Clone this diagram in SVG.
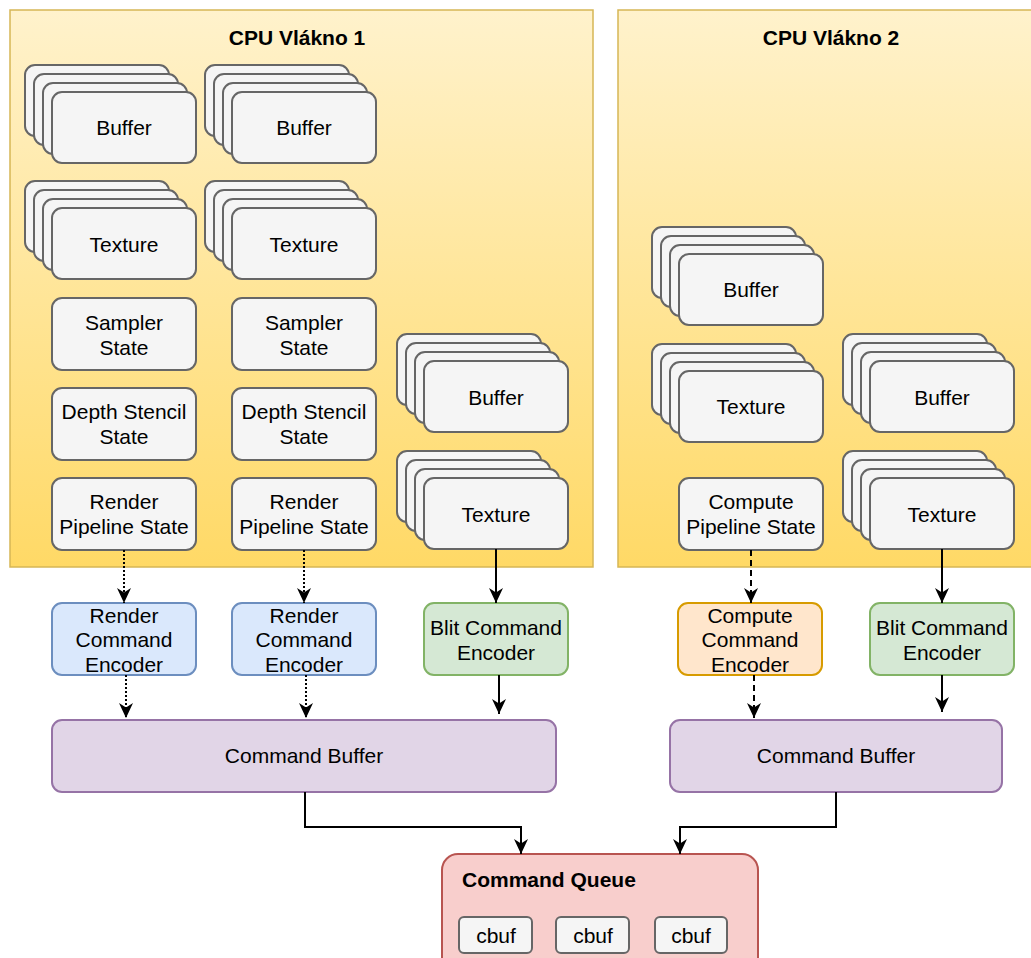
<svg xmlns="http://www.w3.org/2000/svg" width="1031" height="958" viewBox="0 0 1031 958">
<defs>
<linearGradient id="yg" x1="0" y1="0" x2="0" y2="1">
<stop offset="0" stop-color="#fff2cc"/>
<stop offset="1" stop-color="#ffd966"/>
</linearGradient>
<marker id="arr" viewBox="0 0 15 14" markerWidth="15" markerHeight="14" refX="15" refY="7" orient="auto" markerUnits="userSpaceOnUse">
<path d="M0,0 L15,7 L0,14 L4.5,7 z" fill="#000" stroke="none"/>
</marker>
</defs>
<style>
text{font-family:"Liberation Sans",Arial,Helvetica,sans-serif;font-size:21px;fill:#000;text-anchor:middle;dominant-baseline:central}
.b{font-weight:bold}
.cont{fill:url(#yg);stroke:#d6b656;stroke-width:1.5}
.g{fill:#f5f5f5;stroke:#666;stroke-width:2}
.rce{fill:#dae8fc;stroke:#6c8ebf;stroke-width:2}
.bce{fill:#d5e8d4;stroke:#82b366;stroke-width:2}
.cce{fill:#ffe6cc;stroke:#d79b00;stroke-width:2}
.cb{fill:#e1d5e7;stroke:#9673a6;stroke-width:2}
.cq{fill:#f8cecc;stroke:#b85450;stroke-width:2}
.e{fill:none;stroke:#000;stroke-width:2;marker-end:url(#arr)}
.dot{stroke-dasharray:2 2}
.dash{stroke-dasharray:6 4}
</style>
<g id="thread1"><rect class="cont" x="10" y="10" width="583" height="557"/><text class="b" x="297" y="37">CPU Vlákno 1</text></g>
<g id="thread2"><rect class="cont" x="618" y="10" width="430" height="557"/><text class="b" x="831" y="37">CPU Vlákno 2</text></g>

<g id="buffer1"><rect class="g" x="25" y="65" width="144" height="71" rx="10"/><rect class="g" x="34" y="74" width="144" height="71" rx="10"/><rect class="g" x="43" y="83" width="144" height="71" rx="10"/><rect class="g" x="52" y="92" width="144" height="71" rx="10"/><text x="124" y="127">Buffer</text></g>
<g id="buffer2"><rect class="g" x="205" y="65" width="144" height="71" rx="10"/><rect class="g" x="214" y="74" width="144" height="71" rx="10"/><rect class="g" x="223" y="83" width="144" height="71" rx="10"/><rect class="g" x="232" y="92" width="144" height="71" rx="10"/><text x="304" y="127">Buffer</text></g>
<g id="texture1"><rect class="g" x="25" y="181" width="144" height="71" rx="10"/><rect class="g" x="34" y="190" width="144" height="71" rx="10"/><rect class="g" x="43" y="199" width="144" height="71" rx="10"/><rect class="g" x="52" y="208" width="144" height="71" rx="10"/><text x="124" y="244">Texture</text></g>
<g id="texture2"><rect class="g" x="205" y="181" width="144" height="71" rx="10"/><rect class="g" x="214" y="190" width="144" height="71" rx="10"/><rect class="g" x="223" y="199" width="144" height="71" rx="10"/><rect class="g" x="232" y="208" width="144" height="71" rx="10"/><text x="304" y="244">Texture</text></g>
<g id="sampler1"><rect class="g" x="52" y="298" width="144" height="72" rx="10"/><text x="124" y="322">Sampler</text><text x="124" y="347">State</text></g>
<g id="sampler2"><rect class="g" x="232" y="298" width="144" height="72" rx="10"/><text x="304" y="322">Sampler</text><text x="304" y="347">State</text></g>
<g id="depth1"><rect class="g" x="52" y="388" width="144" height="72" rx="10"/><text x="124" y="411">Depth Stencil</text><text x="124" y="436">State</text></g>
<g id="depth2"><rect class="g" x="232" y="388" width="144" height="72" rx="10"/><text x="304" y="411">Depth Stencil</text><text x="304" y="436">State</text></g>
<g id="rps1"><rect class="g" x="52" y="478" width="144" height="72" rx="10"/><text x="124" y="501">Render</text><text x="124" y="526">Pipeline State</text></g>
<g id="rps2"><rect class="g" x="232" y="478" width="144" height="72" rx="10"/><text x="304" y="501">Render</text><text x="304" y="526">Pipeline State</text></g>
<g id="buffer3"><rect class="g" x="397" y="334" width="144" height="71" rx="10"/><rect class="g" x="406" y="343" width="144" height="71" rx="10"/><rect class="g" x="415" y="352" width="144" height="71" rx="10"/><rect class="g" x="424" y="361" width="144" height="71" rx="10"/><text x="496" y="397">Buffer</text></g>
<g id="texture3"><rect class="g" x="397" y="451" width="144" height="71" rx="10"/><rect class="g" x="406" y="460" width="144" height="71" rx="10"/><rect class="g" x="415" y="469" width="144" height="71" rx="10"/><rect class="g" x="424" y="478" width="144" height="71" rx="10"/><text x="496" y="514">Texture</text></g>

<g id="buffer4"><rect class="g" x="652" y="227" width="144" height="71" rx="10"/><rect class="g" x="661" y="236" width="144" height="71" rx="10"/><rect class="g" x="670" y="245" width="144" height="71" rx="10"/><rect class="g" x="679" y="254" width="144" height="71" rx="10"/><text x="751" y="289">Buffer</text></g>
<g id="texture4"><rect class="g" x="652" y="344" width="144" height="71" rx="10"/><rect class="g" x="661" y="353" width="144" height="71" rx="10"/><rect class="g" x="670" y="362" width="144" height="71" rx="10"/><rect class="g" x="679" y="371" width="144" height="71" rx="10"/><text x="751" y="406">Texture</text></g>
<g id="buffer5"><rect class="g" x="843" y="334" width="144" height="71" rx="10"/><rect class="g" x="852" y="343" width="144" height="71" rx="10"/><rect class="g" x="861" y="352" width="144" height="71" rx="10"/><rect class="g" x="870" y="361" width="144" height="71" rx="10"/><text x="942" y="397">Buffer</text></g>
<g id="texture5"><rect class="g" x="843" y="451" width="144" height="71" rx="10"/><rect class="g" x="852" y="460" width="144" height="71" rx="10"/><rect class="g" x="861" y="469" width="144" height="71" rx="10"/><rect class="g" x="870" y="478" width="144" height="71" rx="10"/><text x="942" y="514">Texture</text></g>
<g id="cps"><rect class="g" x="679" y="478" width="144" height="72" rx="10"/><text x="751" y="501">Compute</text><text x="751" y="526">Pipeline State</text></g>

<g id="rce1"><rect class="rce" x="52" y="603" width="144" height="72" rx="10"/><text x="124" y="615">Render</text><text x="124" y="639">Command</text><text x="124" y="664">Encoder</text></g>
<g id="rce2"><rect class="rce" x="232" y="603" width="144" height="72" rx="10"/><text x="304" y="615">Render</text><text x="304" y="639">Command</text><text x="304" y="664">Encoder</text></g>
<g id="bce1"><rect class="bce" x="424" y="603" width="144" height="72" rx="10"/><text x="496" y="627">Blit Command</text><text x="496" y="652">Encoder</text></g>
<g id="cce"><rect class="cce" x="678" y="603" width="144" height="72" rx="10"/><text x="750" y="615">Compute</text><text x="750" y="639">Command</text><text x="750" y="664">Encoder</text></g>
<g id="bce2"><rect class="bce" x="870" y="603" width="144" height="72" rx="10"/><text x="942" y="627">Blit Command</text><text x="942" y="652">Encoder</text></g>

<g id="cbuf1"><rect class="cb" x="52" y="720" width="504" height="72" rx="10"/><text x="304" y="755">Command Buffer</text></g>
<g id="cbuf2"><rect class="cb" x="670" y="720" width="332" height="72" rx="10"/><text x="836" y="755">Command Buffer</text></g>

<g id="queue"><rect class="cq" x="442" y="854" width="316" height="120" rx="16"/><text class="b" x="462" y="879" style="text-anchor:start">Command Queue</text>
<rect class="g" x="459" y="917" width="73" height="36" rx="5"/><text x="496" y="935">cbuf</text>
<rect class="g" x="556" y="917" width="73" height="36" rx="5"/><text x="593" y="935">cbuf</text>
<rect class="g" x="655" y="917" width="72" height="36" rx="5"/><text x="691" y="935">cbuf</text></g>

<g id="connectors">
<path class="e dot" d="M124,550 V603"/>
<path class="e dot" d="M304,550 V603"/>
<path class="e" d="M496,549 V603"/>
<path class="e dash" d="M751,550 V603"/>
<path class="e" d="M942,549 V603"/>
<path class="e dot" d="M126,675 V718"/>
<path class="e dot" d="M306,675 V718"/>
<path class="e" d="M499,675 V714"/>
<path class="e dash" d="M754,675 V718"/>
<path class="e" d="M942,675 V712"/>
<path class="e" d="M305,792 V827 H521 V854"/>
<path class="e" d="M836,792 V827 H680 V854"/>
</g>
</svg>
